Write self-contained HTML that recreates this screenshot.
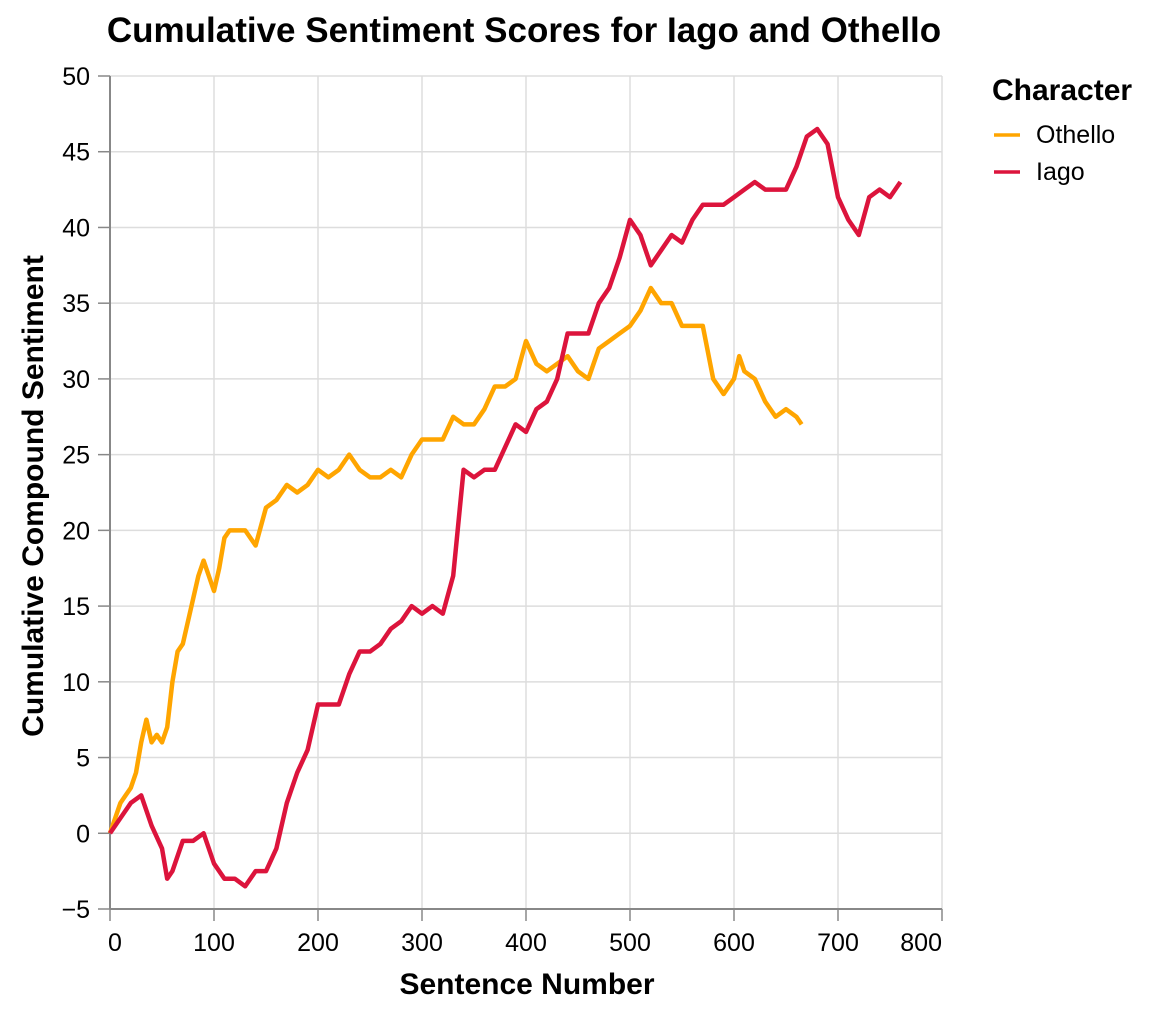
<!DOCTYPE html>
<html><head><meta charset="utf-8"><style>
body{margin:0;background:#fff;font-family:"Liberation Sans",Arial,sans-serif}
</style></head><body>
<svg id="c" width="1150" height="1011" xmlns="http://www.w3.org/2000/svg"></svg>
<script>
const xTicks=[0,100,200,300,400,500,600,700,800];
const yTicks=[-5,0,5,10,15,20,25,30,35,40,45,50];
const othelloX=[0,5,10,15,20,25,30,35,40,45,50,55,60,65,70,75,80,85,90,95,100,105,110,115,120,130,140,150,160,170,180,190,200,210,220,230,240,250,260,270,280,290,300,310,320,330,340,350,360,370,380,390,400,410,420,430,440,450,460,470,480,490,500,510,520,530,540,550,560,570,580,590,600,605,610,620,630,640,650,660,665];
const othelloY=[0,1,2,2.5,3,4,6,7.5,6,6.5,6,7,10,12,12.5,14,15.5,17,18,17,16,17.5,19.5,20,20,20,19,21.5,22,23,22.5,23,24,23.5,24,25,24,23.5,23.5,24,23.5,25,26,26,26,27.5,27,27,28,29.5,29.5,30,32.5,31,30.5,31,31.5,30.5,30,32,32.5,33,33.5,34.5,36,35,35,33.5,33.5,33.5,30,29,30,31.5,30.5,30,28.5,27.5,28,27.5,27];
const iagoX=[0,10,20,30,40,50,55,60,70,80,90,100,110,120,130,140,150,160,170,180,190,200,210,220,230,240,250,260,270,280,290,300,310,320,330,335,340,350,360,370,380,390,400,410,420,430,440,450,460,470,480,490,500,510,520,530,540,550,560,570,580,590,600,610,620,630,640,650,660,670,680,690,700,710,720,730,740,750,760];
const iagoY=[0,1,2,2.5,0.5,-1,-3,-2.5,-0.5,-0.5,0,-2,-3,-3,-3.5,-2.5,-2.5,-1,2,4,5.5,8.5,8.5,8.5,10.5,12,12,12.5,13.5,14,15,14.5,15,14.5,17,20.5,24,23.5,24,24,25.5,27,26.5,28,28.5,30,33,33,33,35,36,38,40.5,39.5,37.5,38.5,39.5,39,40.5,41.5,41.5,41.5,42,42.5,43,42.5,42.5,42.5,44,46,46.5,45.5,42,40.5,39.5,42,42.5,42,43];
const svg=document.getElementById('c');const NS='http://www.w3.org/2000/svg';
const X0=110,X1=942,Y0=909,Y1=76;
const sx=v=>X0+(v-0)/800*(X1-X0);
const sy=v=>Y0-(v+5)/55*(Y0-Y1);
function mk(t,a,p){const e=document.createElementNS(NS,t);for(const k in a)e.setAttribute(k,a[k]);(p||svg).appendChild(e);return e;}
xTicks.forEach((t,i)=>{const g=mk('line',{x1:sx(t),x2:sx(t),y1:Y1,y2:Y0,stroke:'#ddd','stroke-width':1.5});


mk('line',{x1:sx(t),x2:sx(t),y1:Y0,y2:Y0+12,stroke:'#888','stroke-width':1.5});
const anc=i===0?'start':(i===xTicks.length-1?'end':'middle');
const l=mk('text',{x:sx(t)+(i===0?-2:0),y:Y0+42,'text-anchor':anc,'font-size':25,fill:'#000'});l.textContent=t;

});
yTicks.forEach(t=>{const g=mk('line',{x1:X0,x2:X1,y1:sy(t),y2:sy(t),stroke:'#ddd','stroke-width':1.5});


mk('line',{x1:X0-12,x2:X0,y1:sy(t),y2:sy(t),stroke:'#888','stroke-width':1.5});
const l=mk('text',{x:X0-20,y:sy(t)+9,'text-anchor':'end','font-size':25,fill:'#000'});l.textContent=t<0?'\u2212'+(-t):t;

});
mk('line',{x1:X0,x2:X0,y1:Y1,y2:Y0,stroke:'#888','stroke-width':2});
mk('line',{x1:X0,x2:X1,y1:Y0,y2:Y0,stroke:'#888','stroke-width':2});
function line(xs,ys,c,n){const p=mk('path',{d:xs.map((x,i)=>(i?'L':'M')+sx(x)+','+sy(ys[i])).join(''),fill:'none',stroke:c,'stroke-width':4.5,'stroke-linejoin':'round'});

}
line(othelloX,othelloY,'#ffa500','othello-line');
line(iagoX,iagoY,'#dc143c','iago-line');
const T=mk('text',{x:524,y:42,'text-anchor':'middle','font-size':35,'font-weight':'bold'});T.textContent='Cumulative Sentiment Scores for Iago and Othello';


const xt=mk('text',{x:527,y:994,'text-anchor':'middle','font-size':30,'font-weight':'bold'});xt.textContent='Sentence Number';


const yt=mk('text',{x:0,y:0,'text-anchor':'middle','font-size':30,'font-weight':'bold',transform:'translate(43,496) rotate(-90)'});yt.textContent='Cumulative Compound Sentiment';


const lt=mk('text',{x:992,y:100,'font-size':30,'font-weight':'bold'});lt.textContent='Character';


[['Othello','#ffa500',135],['Iago','#dc143c',172]].forEach(([n,c,y])=>{
mk('line',{x1:994,x2:1020,y1:y,y2:y,stroke:c,'stroke-width':3.5});
const t=mk('text',{x:1036,y:y+8,'font-size':25});t.textContent=n;

});
</script>
</body></html>
